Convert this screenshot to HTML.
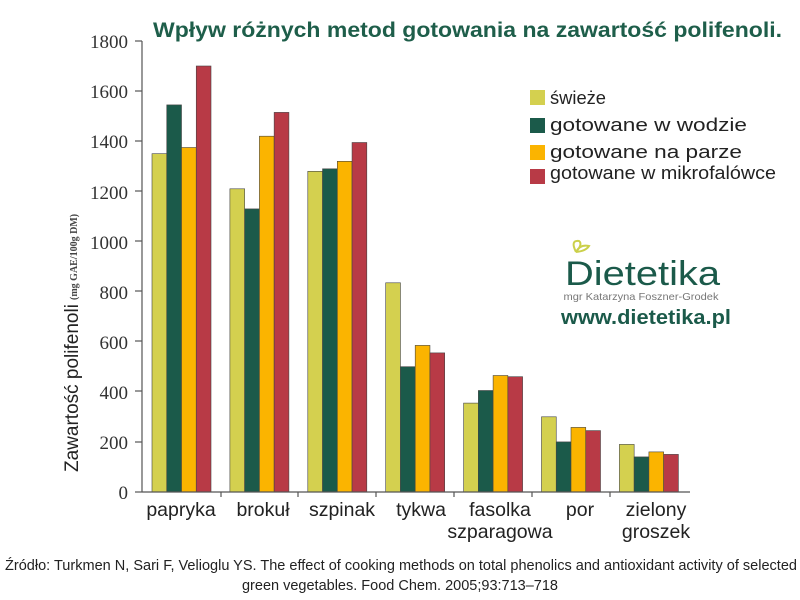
<!DOCTYPE html>
<html><head><meta charset="utf-8"><style>
body{margin:0;background:#fff;width:800px;height:600px;overflow:hidden}
svg{display:block}
</style></head><body>
<svg width="800" height="600" xmlns="http://www.w3.org/2000/svg" font-family="Liberation Sans, sans-serif">
<text x="153" y="37" textLength="629" lengthAdjust="spacingAndGlyphs" font-size="21" font-weight="bold" fill="#1e5e4a">Wpływ różnych metod gotowania na zawartość polifenoli.</text>
<g font-family="Liberation Serif, serif" font-size="19" fill="#333" text-anchor="end">
<text x="128" y="48">1800</text><text x="128" y="98">1600</text><text x="128" y="148">1400</text><text x="128" y="199">1200</text><text x="128" y="249">1000</text><text x="128" y="299">800</text><text x="128" y="349">600</text><text x="128" y="399">400</text><text x="128" y="449">200</text><text x="128" y="499">0</text>
</g>
<g stroke-width="0.6" stroke="#444">
<rect x="152" y="153.7" width="14.75" height="338.3" fill="#d4d04f"/><rect x="166.75" y="104.9" width="14.75" height="387.1" fill="#1b5a4a"/><rect x="181.5" y="147.5" width="14.75" height="344.5" fill="#fbb400"/><rect x="196.25" y="66" width="14.75" height="426" fill="#b83a46"/>
<rect x="229.9" y="188.8" width="14.75" height="303.2" fill="#d4d04f"/><rect x="244.65" y="208.9" width="14.75" height="283.1" fill="#1b5a4a"/><rect x="259.4" y="136.2" width="14.75" height="355.8" fill="#fbb400"/><rect x="274.15" y="112.4" width="14.75" height="379.6" fill="#b83a46"/>
<rect x="307.8" y="171.3" width="14.75" height="320.7" fill="#d4d04f"/><rect x="322.55" y="168.8" width="14.75" height="323.2" fill="#1b5a4a"/><rect x="337.3" y="161.3" width="14.75" height="330.7" fill="#fbb400"/><rect x="352.05" y="142.5" width="14.75" height="349.5" fill="#b83a46"/>
<rect x="385.7" y="282.8" width="14.75" height="209.2" fill="#d4d04f"/><rect x="400.45" y="366.7" width="14.75" height="125.3" fill="#1b5a4a"/><rect x="415.2" y="345.4" width="14.75" height="146.6" fill="#fbb400"/><rect x="429.95" y="352.9" width="14.75" height="139.1" fill="#b83a46"/>
<rect x="463.6" y="403.1" width="14.75" height="88.9" fill="#d4d04f"/><rect x="478.35" y="390.5" width="14.75" height="101.5" fill="#1b5a4a"/><rect x="493.1" y="375.5" width="14.75" height="116.5" fill="#fbb400"/><rect x="507.85" y="376.7" width="14.75" height="115.3" fill="#b83a46"/>
<rect x="541.5" y="416.8" width="14.75" height="75.2" fill="#d4d04f"/><rect x="556.25" y="441.9" width="14.75" height="50.1" fill="#1b5a4a"/><rect x="571" y="427.4" width="14.75" height="64.6" fill="#fbb400"/><rect x="585.75" y="430.6" width="14.75" height="61.4" fill="#b83a46"/>
<rect x="619.4" y="444.4" width="14.75" height="47.6" fill="#d4d04f"/><rect x="634.15" y="456.9" width="14.75" height="35.1" fill="#1b5a4a"/><rect x="648.9" y="451.9" width="14.75" height="40.1" fill="#fbb400"/><rect x="663.65" y="454.4" width="14.75" height="37.6" fill="#b83a46"/>
</g>
<g stroke="#555" stroke-width="1.2">
<line x1="142" y1="41" x2="142" y2="492"/>
<line x1="142" y1="492" x2="690" y2="492"/>
<line x1="135" y1="41" x2="142" y2="41"/><line x1="135" y1="91" x2="142" y2="91"/><line x1="135" y1="141" x2="142" y2="141"/><line x1="135" y1="191" x2="142" y2="191"/><line x1="135" y1="241" x2="142" y2="241"/><line x1="135" y1="291" x2="142" y2="291"/><line x1="135" y1="341" x2="142" y2="341"/><line x1="135" y1="391" x2="142" y2="391"/><line x1="135" y1="442" x2="142" y2="442"/><line x1="135" y1="492" x2="142" y2="492"/>
<line x1="221" y1="492" x2="221" y2="497"/><line x1="298" y1="492" x2="298" y2="497"/><line x1="376" y1="492" x2="376" y2="497"/><line x1="454" y1="492" x2="454" y2="497"/><line x1="532" y1="492" x2="532" y2="497"/><line x1="610" y1="492" x2="610" y2="497"/>
</g>
<text transform="translate(78,472) rotate(-90)" font-size="19" fill="#222">Zawartość polifenoli</text>
<text transform="translate(77,300) rotate(-90)" font-family="Liberation Serif, serif" font-size="10" font-weight="bold" fill="#444">(mg GAE/100g DM)</text>
<g font-size="19.5" fill="#222" text-anchor="middle">
<text x="181" y="516">papryka</text><text x="263" y="516">brokuł</text><text x="342" y="516">szpinak</text><text x="421" y="516">tykwa</text><text x="500" y="516">fasolka</text><text x="500" y="538">szparagowa</text><text x="580" y="516">por</text><text x="656" y="516">zielony</text><text x="656" y="538">groszek</text>
</g>
<g font-size="18" fill="#222">
<rect x="530" y="90" width="15" height="15" fill="#d4d04f"/><text x="550" y="104" textLength="56" lengthAdjust="spacingAndGlyphs">świeże</text>
<rect x="530" y="118" width="15" height="15" fill="#1b5a4a"/><text x="550" y="131" textLength="197" lengthAdjust="spacingAndGlyphs">gotowane w wodzie</text>
<rect x="530" y="145" width="15" height="15" fill="#fbb400"/><text x="550" y="158" textLength="192" lengthAdjust="spacingAndGlyphs">gotowane na parze</text>
<rect x="530" y="169" width="15" height="15" fill="#b83a46"/><text x="550" y="179" textLength="226" lengthAdjust="spacingAndGlyphs">gotowane w mikrofalówce</text>
</g>
<path d="M576 252 q-6 -12 3 -11 q4 3 -3 11 q4 -8 13 -6 q-3 5 -13 6" fill="none" stroke="#cbd04a" stroke-width="2"/>
<text x="565" y="285" font-size="34" fill="#1b5a4a" textLength="155" lengthAdjust="spacingAndGlyphs">Dietetika</text>
<text x="641" y="300" text-anchor="middle" font-size="10.5" fill="#777" textLength="155" lengthAdjust="spacingAndGlyphs">mgr Katarzyna Foszner-Grodek</text>
<text x="561" y="324" font-size="20" font-weight="bold" fill="#1b5a4a" textLength="170" lengthAdjust="spacingAndGlyphs">www.dietetika.pl</text>
<g font-size="14.5" fill="#222" text-anchor="middle">
<text x="401" y="570" textLength="792" lengthAdjust="spacingAndGlyphs">Źródło: Turkmen N, Sari F, Velioglu YS. The effect of cooking methods on total phenolics and antioxidant activity of selected</text>
<text x="400" y="590">green vegetables. Food Chem. 2005;93:713–718</text>
</g>
</svg>
</body></html>
